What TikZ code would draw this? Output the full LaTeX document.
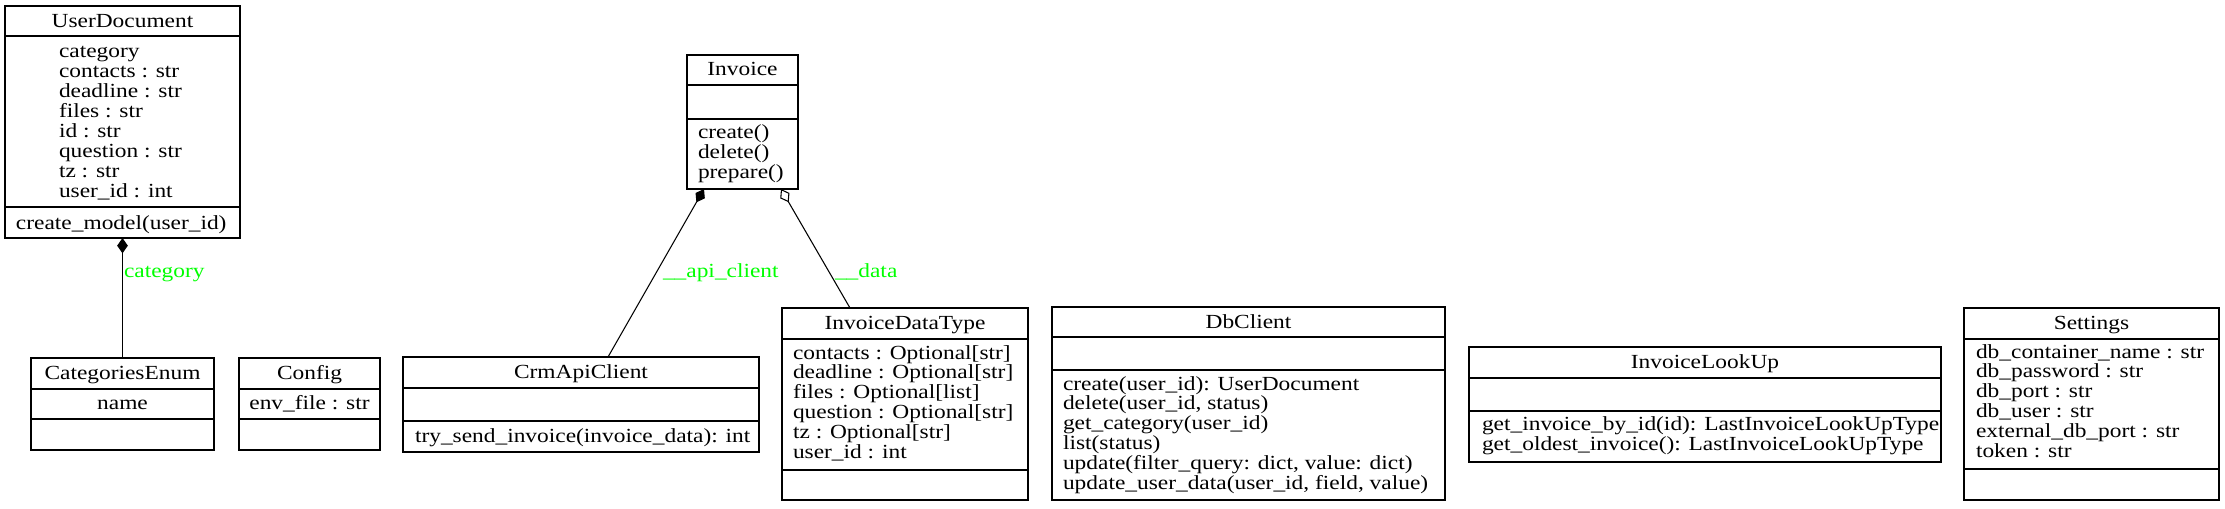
\documentclass[tikz,border=0pt]{standalone}
\usepackage{fontspec}
\setmainfont{Liberation Serif}[FakeStretch=1.17]
\usetikzlibrary{arrows.meta,calc}
\definecolor{lblgreen}{RGB}{0,255,0}
\tikzset{
  clsbox/.style={draw=black, line width=0.9pt, fill=none, inner sep=0pt, outer sep=0pt, rectangle},
  sepline/.style={draw=black, line width=0.9pt},
  txt/.style={inner sep=0pt, outer sep=0pt, font=\fontsize{15pt}{15pt}\selectfont},
  lab/.style={txt, text=lblgreen},
  comp/.style={draw=black, line width=0.8pt, {Diamond[length=11.5pt,width=8pt]}-},
  aggr/.style={draw=black, line width=0.8pt, {Diamond[open,fill=white,length=11.5pt,width=8pt]}-},
}
\newcommand\umlbox[7]{%
  \node[clsbox, minimum width={(#4-#2)*0.75pt}, minimum height={(#7-#3)*0.75pt}] (#1) at ({(#2+#4)/2},{(#3+#7)/2}) {};
  \draw[sepline] (#2,#5) -- (#4,#5);
  \draw[sepline] (#2,#6) -- (#4,#6);
}
\newcommand\txtlines[5]{% prefix, x, y0, step, list
  \foreach \myline [count=\i from 0] in {#5} {
    \node[txt, anchor=base west] (#1\i) at (#2, {#3+#4*\i}) {\myline};
  }
}
\begin{document}
\begin{tikzpicture}[x=0.75pt, y=-0.75pt]
\useasboundingbox (0,0) rectangle (2225,508);

% UserDocument
\umlbox{ud}{5}{6}{240}{36}{207}{238}
\node[txt, anchor=base] (udT) at (122.5,27) {UserDocument};
\txtlines{udA}{59}{57}{20}{category, contacts : str, deadline : str, files : str, id : str, question : str, tz : str, user\_id : int}
\node[txt, anchor=base west] (udM) at (16,229) {create\_model(user\_id)};

% CategoriesEnum
\umlbox{ce}{31}{358}{214}{389}{419}{450}
\node[txt, anchor=base] (ceT) at (122.5,379) {CategoriesEnum};
\node[txt, anchor=base] (ceA) at (122.5,409) {name};

% Config
\umlbox{cf}{239}{358}{380}{389}{419}{450}
\node[txt, anchor=base] (cfT) at (309.5,379) {Config};
\node[txt, anchor=base] (cfA) at (309.5,409) {env\_file : str};

% CrmApiClient
\umlbox{crm}{403}{357}{759}{388}{421}{452}
\node[txt, anchor=base] (crmT) at (581,378) {CrmApiClient};
\node[txt, anchor=base west] (crmM) at (415,442) {try\_send\_invoice(invoice\_data): int};

% Invoice
\umlbox{inv}{687}{55}{798}{85}{119}{189}
\node[txt, anchor=base] (invT) at (742.5,75) {Invoice};
\txtlines{invM}{698}{138}{20}{create(), delete(), prepare()}

% InvoiceDataType
\umlbox{idt}{782}{308}{1028}{339}{470}{500}
\node[txt, anchor=base] (idtT) at (905,329) {InvoiceDataType};
\txtlines{idtA}{793}{359}{19.8}{contacts : Optional[str], deadline : Optional[str], files : Optional[list], question : Optional[str], tz : Optional[str], user\_id : int}

% DbClient
\umlbox{db}{1052}{307}{1445}{337}{370}{500}
\node[txt, anchor=base] (dbT) at (1248.5,328) {DbClient};
\txtlines{dbM}{1063}{390}{19.8}{create(user\_id): UserDocument, {delete(user\_id, status)}, get\_category(user\_id), list(status), {update(filter\_query: dict, value: dict)}, {update\_user\_data(user\_id, field, value)}}

% InvoiceLookUp
\umlbox{ilu}{1469}{347}{1941}{378}{411}{462}
\node[txt, anchor=base] (iluT) at (1705,368) {InvoiceLookUp};
\txtlines{iluM}{1482}{430}{20}{get\_invoice\_by\_id(id): LastInvoiceLookUpType, get\_oldest\_invoice(): LastInvoiceLookUpType}

% Settings
\umlbox{st}{1964}{308}{2219}{339}{469}{500}
\node[txt, anchor=base] (stT) at (2091.5,329) {Settings};
\txtlines{stA}{1976}{358}{19.8}{db\_container\_name : str, db\_password : str, db\_port : str, db\_user : str, external\_db\_port : str, token : str}

% connectors
\draw[comp] (ud.south) -- (ce.north);
\node[lab, anchor=base west] (lcat) at (124,277) {category};

\draw[comp] ($(inv.south west)+(17,0)$) -- ($(crm.north west)+(205,0)$);
\node[lab, anchor=base west] (lapi) at (663,277) {\_\_api\_client};

\draw[aggr] ($(inv.south east)+(-17,0)$) -- ($(idt.north west)+(68,0)$);
\node[lab, anchor=base west] (ldata) at (835,277) {\_\_data};
\end{tikzpicture}
\end{document}
